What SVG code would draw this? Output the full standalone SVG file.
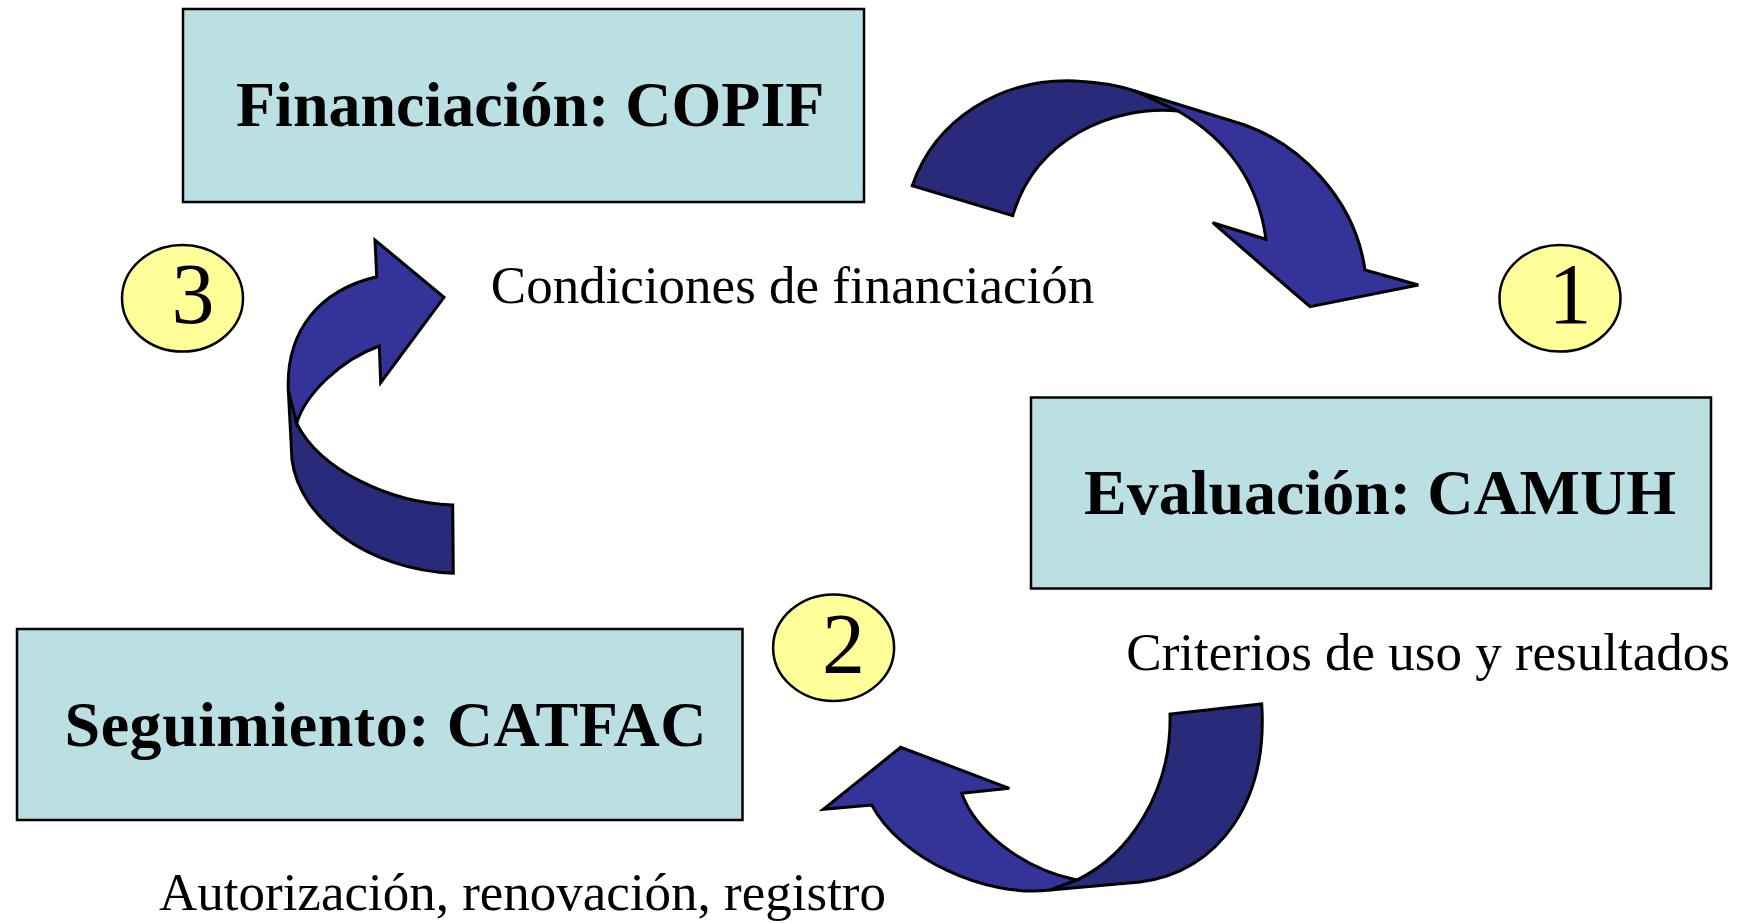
<svg xmlns="http://www.w3.org/2000/svg" width="1745" height="923" viewBox="0 0 1745 923">
<style>
.box{fill:#BBE0E3;stroke:#000;stroke-width:2.5}
.title{font-family:"Liberation Serif","Times New Roman",serif;font-weight:bold;font-size:64px;fill:#000}
.lbl{font-family:"Liberation Serif","Times New Roman",serif;font-size:53px;fill:#000}
.num{font-family:"Liberation Serif","Times New Roman",serif;font-size:86px;fill:#000;text-anchor:middle}
.badge{fill:#FFFF99;stroke:#000;stroke-width:2.5}
.back{fill:#2A2A7A;stroke:#000;stroke-width:3;stroke-linejoin:miter}
.front{fill:#333399;stroke:#000;stroke-width:3;stroke-linejoin:miter}
</style>
<rect width="1745" height="923" fill="#fff"/>
<g id="node-copif">
<rect class="box" x="183" y="9" width="681" height="193"/>
<text class="title" x="236" y="126">Financiación: COPIF</text>
</g>
<g id="node-camuh">
<rect class="box" x="1031" y="397.5" width="680" height="191"/>
<text class="title" x="1084" y="514">Evaluación: CAMUH</text>
</g>
<g id="node-catfac">
<rect class="box" x="17" y="629" width="725.5" height="191"/>
<text class="title" x="64.5" y="745.5" textLength="642" lengthAdjust="spacing">Seguimiento: CATFAC</text>
</g>
<g id="badge-3">
<ellipse class="badge" cx="182.5" cy="298.3" rx="60.5" ry="53.3"/>
<text class="num" x="193" y="323">3</text>
</g>
<g id="badge-1">
<ellipse class="badge" cx="1560" cy="298.3" rx="60.5" ry="53.3"/>
<text class="num" x="1570" y="323">1</text>
</g>
<g id="badge-2">
<ellipse class="badge" cx="833.6" cy="647.7" rx="60.5" ry="53.3"/>
<text class="num" x="843.6" y="672.5">2</text>
</g>
<g id="label-condiciones"><text class="lbl" x="490.8" y="302.7">Condiciones de financiación</text></g>
<g id="label-criterios"><text class="lbl" x="1126.3" y="670">Criterios de uso y resultados</text></g>
<g id="label-autorizacion"><text class="lbl" x="159" y="910">Autorización, renovación, registro</text></g>
<g id="connectors">
<g id="arrow-copif-camuh">
<path class="back" d="M912.3,185.7 C935,120 1000,78 1075,81 C1100,82 1120,86 1135,91 L1178,111 C1110,105 1035,140 1012.7,215.7 Z"/>
<path class="front" d="M1135,91 L1232,121 C1300,140 1355,200 1365,270 L1418.3,285 L1310,306.7 L1212.7,222.7 L1266,239.3 C1258,180 1225,138 1178,111 Z"/>
</g>
<g id="arrow-camuh-catfac">
<path class="back" d="M1076.7,880 C1130,855 1172,790 1170,714 L1261.7,704 C1268,800 1220,872 1140,882 L1050,890 Z"/>
<path class="front" d="M1050,890 C985,898 900,858 871.7,805 L823.3,809.3 L900.7,747.3 L1009.3,788.3 L961.7,793.3 C975,830 1020,868 1076.7,880 Z"/>
</g>
<g id="arrow-catfac-copif">
<path class="back" d="M288.3,390 L292,460 C300,520 370,570 453.3,573.3 L452.7,505 C390,503 320,470 296.7,423.3 Z"/>
<path class="front" d="M296.7,423.3 C305,395 340,360 379.3,346 L380.7,382.7 L444,297.3 L375,240 L376.7,276.7 C320,290 286,330 288.3,390 Z"/>
</g>
</g>
</svg>
